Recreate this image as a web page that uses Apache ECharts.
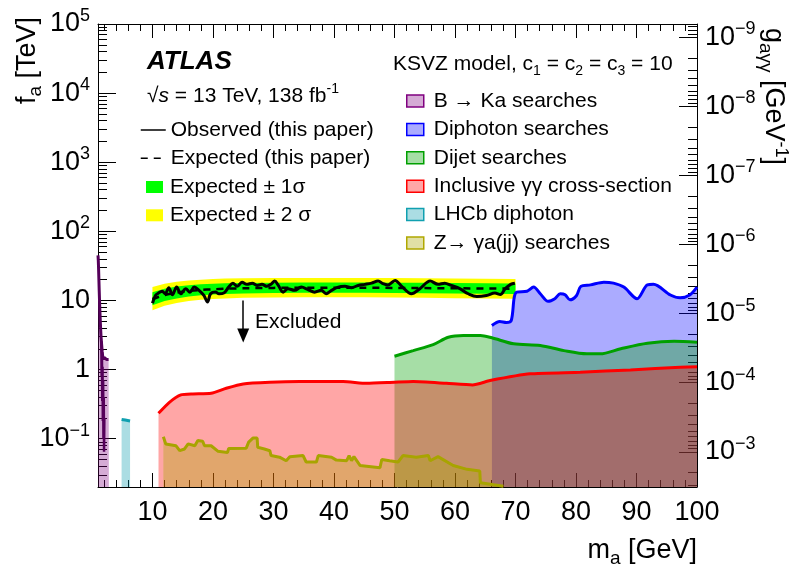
<!DOCTYPE html>
<html>
<head>
<meta charset="utf-8">
<script src="https://cdn.jsdelivr.net/npm/echarts@6/dist/echarts.min.js"></script>
<style>html,body{margin:0;padding:0;background:#fff}#c{width:800px;height:567px}</style>
</head>
<body>
<div id="c"></div>
<script>
// ---------------- data ----------------
const fMin = 0.02, fMax = 1e5;          // f_a axis range [TeV]
const gK = Math.pow(10, -4.19);         // g_aγγ = gK / f_a
const xMin = 1, xMax = 100;

const bkaX = [1.0, 1.05, 1.1, 1.2, 1.3, 1.4, 1.5, 1.6, 1.7, 1.8, 1.9, 2.0, 2.1, 2.2, 2.4, 2.6, 2.75, 2.8];
const bkaF = [45, 38, 28, 14, 7.5, 4.5, 3.0, 2.3, 1.8, 1.5, 1.4, 1.5, 1.6, 1.45, 1.4, 1.35, 1.4, 1.4];
const bkaSpX = [1.55, 1.6, 1.65, 1.7, 1.75, 1.8, 1.85, 1.9, 1.95, 2.0, 2.05];
const bkaSpF = [2.6, 0.8, 1.8, 0.35, 1.1, 0.18, 0.7, 0.1, 0.4, 0.065, 0.2];

const lhX = [4.9, 5.5, 6.3];
const lhF = [0.19, 0.186, 0.18];

const dpX = [66.1, 67.4, 68.5, 69.3, 69.8, 70.2, 71.9, 73.0, 74.1, 75.4, 76.5, 77.4, 78.2, 79.0, 80.1, 80.8, 82.4, 84.6, 86.2, 87.9, 90.1, 91.8, 92.8, 95.6, 97.2, 98.8, 100];
const dpF = [4.34, 4.97, 4.8, 5.13, 11.2, 13.2, 13.6, 15.6, 12.5, 9.7, 10.6, 12.5, 12.1, 10.2, 11.8, 16.0, 16.8, 18.4, 17.8, 15.6, 10.6, 16.8, 17.1, 12.0, 10.9, 12.0, 15.6];

const djX = [50.0, 53.1, 56.4, 58.9, 61.4, 64.2, 66.1, 69.7, 74.1, 78.0, 81.8, 84.0, 87.4, 91.8, 96.2, 100];
const djF = [1.56, 1.88, 2.30, 2.94, 3.11, 3.11, 2.88, 2.36, 2.23, 1.88, 1.69, 1.69, 2.0, 2.40, 2.57, 2.49];

const incX = [11.0, 12.8, 14.7, 16.7, 19.7, 22.2, 25.0, 29.4, 34.3, 41.5, 45.4, 50, 53.1, 58.6, 62.9, 65.8, 72.4, 80.7, 89.0, 97.2, 100];
const incF = [0.233, 0.336, 0.43, 0.445, 0.454, 0.536, 0.62, 0.655, 0.67, 0.67, 0.632, 0.655, 0.67, 0.632, 0.60, 0.693, 0.867, 0.915, 0.99, 1.08, 1.10];

const zX = [11.8, 12.2, 13.9, 14.5, 15.3, 15.9, 17.0, 17.5, 18.3, 18.6, 19.7, 20.8, 22.4, 22.6, 25.5, 25.9, 26.6, 27.3, 27.4, 28.5, 29.4, 29.6, 31.0, 32.1, 32.7, 34.9, 35.4, 37.1, 37.4, 39.6, 40.4, 42.1, 42.5, 42.9, 43.3, 44.3, 47.6, 47.9, 49.2, 50.6, 51.4, 53.6, 55.6, 55.9, 57.2, 59.7, 62.0, 64.1, 64.2, 66.4, 68.0];
const zF = [0.107, 0.084, 0.079, 0.067, 0.071, 0.084, 0.079, 0.094, 0.092, 0.079, 0.079, 0.066, 0.063, 0.072, 0.073, 0.089, 0.102, 0.102, 0.075, 0.071, 0.067, 0.057, 0.054, 0.048, 0.055, 0.057, 0.046, 0.046, 0.057, 0.054, 0.049, 0.048, 0.057, 0.048, 0.055, 0.041, 0.038, 0.050, 0.048, 0.046, 0.057, 0.054, 0.057, 0.048, 0.055, 0.041, 0.036, 0.034, 0.023, 0.0215, 0.0205];

const expX  = [10, 12, 14, 16, 18, 20, 22, 25, 30, 35, 40, 45, 50, 55, 60, 65, 70];
const expF  = [10.5, 12.0, 13.0, 13.7, 14.2, 14.5, 14.8, 15.0, 15.2, 15.3, 15.3, 15.3, 15.2, 15.1, 15.0, 14.9, 14.8];
const s1Lo  = [8.5, 9.8, 10.7, 11.4, 11.9, 12.2, 12.4, 12.6, 12.8, 12.9, 12.9, 12.9, 12.8, 12.7, 12.6, 12.5, 12.4];
const s1Hi  = [13.2, 14.8, 15.9, 16.6, 17.1, 17.4, 17.7, 17.9, 18.1, 18.2, 18.2, 18.2, 18.1, 18.0, 17.9, 17.8, 17.6];
const s2Lo  = [7.2, 8.4, 9.2, 9.8, 10.2, 10.5, 10.7, 10.9, 11.0, 11.1, 11.1, 11.1, 11.0, 10.9, 10.8, 10.7, 10.6];
const s2Hi  = [15.6, 17.5, 18.7, 19.5, 20.0, 20.4, 20.7, 20.9, 21.1, 21.2, 21.2, 21.2, 21.1, 21.0, 20.8, 20.6, 20.4];

const obsX = [10.0, 10.5, 11.0, 11.6, 12.1, 12.7, 13.3, 14.0, 14.7, 15.5, 16.2, 16.9, 17.7, 18.5, 19.1, 19.6, 20.4, 21.0, 21.8, 22.6, 23.3, 24.0, 24.8, 25.6, 26.5, 27.3, 28.1, 28.9, 29.7, 30.2, 30.8, 31.6, 32.4, 33.5, 34.6, 35.7, 36.8, 37.9, 38.7, 39.6, 40.7, 41.8, 42.9, 44.0, 45.1, 46.2, 47.3, 48.1, 48.9, 50.1, 51.2, 52.8, 54.2, 55.9, 57.2, 58.3, 59.4, 60.8, 62.2, 63.6, 65.2, 66.6, 67.5, 68.3, 69.2, 69.9];
const obsF = [9.1, 11.8, 12.8, 13.6, 12.5, 15.3, 12.1, 15.6, 12.5, 14.8, 13.2, 15.6, 14.0, 11.8, 9.5, 12.5, 13.3, 12.5, 12.8, 15.6, 17.8, 16.0, 18.4, 17.1, 17.8, 16.5, 17.1, 16.0, 17.5, 19.1, 16.5, 13.2, 14.8, 14.0, 15.6, 14.4, 13.2, 14.0, 12.5, 14.0, 15.6, 16.0, 15.3, 16.5, 17.1, 17.8, 19.1, 17.5, 16.8, 19.5, 16.0, 12.5, 14.8, 19.1, 17.1, 17.8, 16.5, 14.8, 12.5, 11.4, 11.8, 12.8, 12.2, 14.8, 17.1, 17.8];

const arrowX = 25, arrowTop = 10, arrowBottom = 3.1;

// ---------------- chart ----------------
const FONT = '"Liberation Sans", Arial, Helvetica, sans-serif';
const pts = (xs, ys) => xs.map((x, i) => [x, ys[i]]);

function powLabel(v) {
  const e = Math.log10(v), r = Math.round(e);
  if (Math.abs(e - r) > 1e-6) return '';
  if (r === 0) return '{b|1}';
  if (r === 1) return '{b|10}';
  return '{b|10}{s|' + (r < 0 ? '\u2212' + (-r) : r) + '}';
}
const labRich = {
  b: { fontSize: 27, fontFamily: FONT, color: '#000', lineHeight: 34 },
  s: { fontSize: 18, fontFamily: FONT, color: '#000', lineHeight: 16, verticalAlign: 'top' }
};
const axisCommon = {
  axisLine: { show: true, onZero: false, lineStyle: { color: '#000', width: 1 } },
  splitLine: { show: false }
};

function area(name, xs, ys, line, fill, extra) {
  return Object.assign({
    name, type: 'line', data: pts(xs, ys), symbol: 'none', silent: true,
    lineStyle: { color: line, width: 3 }, itemStyle: { color: line },
    areaStyle: { color: fill, opacity: 1, origin: 'start' }
  }, extra || {});
}

// band between lo and hi, drawn through the axes' own scales
function band(name, xs, lo, hi, color) {
  return {
    name, type: 'custom', silent: true, clip: true,
    data: xs.map((x, i) => [x, lo[i], hi[i]]),
    encode: { x: 0, y: [1, 2] },
    itemStyle: { color },
    renderItem: function (params, api) {
      if (params.dataIndex !== 0) return null;
      const top = xs.map((x, i) => api.coord([x, hi[i]]));
      const bot = xs.map((x, i) => api.coord([x, lo[i]])).reverse();
      return { type: 'polygon', shape: { points: top.concat(bot) }, style: { fill: color, stroke: null } };
    }
  };
}

const gMin = gK / fMax, gMax = gK / fMin;

const option = {
  animation: false,
  textStyle: { fontFamily: FONT },
  grid: { left: 98, right: 103, top: 24, bottom: 80 },
  xAxis: [
    Object.assign({}, axisCommon, {
      type: 'value', min: xMin, max: xMax, splitNumber: 10, position: 'bottom',
      axisTick: { inside: true, length: 14, lineStyle: { color: '#000' } },
      minorTick: { show: true, splitNumber: 5, length: 7, lineStyle: { color: '#000' } },
      axisLabel: { fontSize: 27, fontFamily: FONT, color: '#000', margin: 12,
        formatter: v => (v > 0 && Math.abs(v % 10) < 1e-9) ? String(v) : '' }
    }),
    Object.assign({}, axisCommon, {
      type: 'value', min: xMin, max: xMax, splitNumber: 10, position: 'top',
      axisTick: { inside: true, length: 14, lineStyle: { color: '#000' } },
      minorTick: { show: true, splitNumber: 5, length: 7, lineStyle: { color: '#000' } },
      axisLabel: { show: false }
    })
  ],
  yAxis: [
    Object.assign({}, axisCommon, {
      type: 'log', logBase: 10, min: fMin, max: fMax, position: 'left',
      axisTick: { inside: true, length: 18, lineStyle: { color: '#000' } },
      minorTick: { show: true, splitNumber: 9, length: 9, lineStyle: { color: '#000' } },
      axisLabel: { formatter: powLabel, rich: labRich, margin: 8 }
    }),
    Object.assign({}, axisCommon, {
      type: 'log', logBase: 10, min: gMin, max: gMax, inverse: true, position: 'right',
      axisTick: { inside: true, length: 18, lineStyle: { color: '#000' } },
      minorTick: { show: true, splitNumber: 9, length: 9, lineStyle: { color: '#000' } },
      axisLabel: { formatter: powLabel, rich: labRich, margin: 8 }
    })
  ],
  legend: [
    { orient: 'vertical', left: 140, top: 119, itemWidth: 25, itemHeight: 12, itemGap: 6.3, padding: 0,
      selectedMode: false, textStyle: { fontSize: 21, lineHeight: 22, color: '#000', fontFamily: FONT },
      data: [{ name: 'Observed (this paper)', lineStyle: { width: 1.5 }, itemStyle: { opacity: 0 } },
             { name: 'Expected (this paper)', lineStyle: { width: 1.5 }, itemStyle: { opacity: 0 } }] },
    { orient: 'vertical', left: 146, top: 176, itemWidth: 17, itemHeight: 12, itemGap: 6.3, padding: 0,
      selectedMode: false, textStyle: { fontSize: 21, lineHeight: 22, color: '#000', fontFamily: FONT, padding: [0, 0, 0, 2] },
      data: [{ name: 'Expected ± 1σ', icon: 'rect', itemStyle: { color: '#00ff00', borderWidth: 0 } },
             { name: 'Expected ± 2 σ', icon: 'rect', itemStyle: { color: '#ffff00', borderWidth: 0 } }] },
    { orient: 'vertical', left: 406, top: 90, itemWidth: 17, itemHeight: 12, itemGap: 6.4, padding: 0,
      selectedMode: false, textStyle: { fontSize: 21, lineHeight: 22, color: '#000', fontFamily: FONT, padding: [0, 0, 0, 5] },
      data: [
        { name: 'B → Ka searches', icon: 'rect', itemStyle: { color: 'rgba(128,0,128,0.33)', borderColor: '#800080', borderWidth: 1.5 } },
        { name: 'Diphoton searches', icon: 'rect', itemStyle: { color: 'rgba(0,0,255,0.33)', borderColor: '#0000ff', borderWidth: 1.5 } },
        { name: 'Dijet searches', icon: 'rect', itemStyle: { color: 'rgba(0,160,0,0.35)', borderColor: '#00a000', borderWidth: 1.5 } },
        { name: 'Inclusive γγ cross-section', icon: 'rect', itemStyle: { color: 'rgba(255,0,0,0.35)', borderColor: '#ff0000', borderWidth: 1.5 } },
        { name: 'LHCb diphoton', icon: 'rect', itemStyle: { color: 'rgba(0,153,170,0.33)', borderColor: '#10a0b0', borderWidth: 1.5 } },
        { name: 'Z→ γa(jj) searches', icon: 'rect', itemStyle: { color: 'rgba(170,165,0,0.35)', borderColor: '#b0a800', borderWidth: 1.5 } }
      ] }
  ],
  series: [
    area('B → Ka searches', bkaX, bkaF, '#55005a', 'rgba(128,0,128,0.33)'),
    { name: 'bkaSpikes', type: 'line', data: pts(bkaSpX, bkaSpF), symbol: 'none', silent: true,
      lineStyle: { color: '#55005a', width: 2.5 } },
    area('LHCb diphoton', lhX, lhF, '#10a0b0', 'rgba(0,153,170,0.33)'),
    area('Diphoton searches', dpX, dpF, '#0000ff', 'rgba(0,0,255,0.33)', { smooth: 0.3 }),
    area('Dijet searches', djX, djF, '#00a000', 'rgba(0,160,0,0.35)', { smooth: 0.3 }),
    area('Inclusive γγ cross-section', incX, incF, '#ff0000', 'rgba(255,0,0,0.35)', { smooth: 0.2 }),
    area('Z→ γa(jj) searches', zX, zF, '#a8a400', 'rgba(170,165,0,0.35)'),
    band('Expected ± 2 σ', expX, s2Lo, s2Hi, '#ffff00'),
    band('Expected ± 1σ', expX, s1Lo, s1Hi, '#00ff00'),
    { name: 'Expected (this paper)', type: 'line', data: pts(expX, expF), symbol: 'none', silent: true,
      smooth: 0.3, lineStyle: { color: '#000', width: 2.5, type: [7, 6] }, itemStyle: { color: '#000' } },
    { name: 'Observed (this paper)', type: 'line', data: pts(obsX, obsF), symbol: 'none', silent: true,
      smooth: 0.35, lineStyle: { color: '#000', width: 3 }, itemStyle: { color: '#000' },
      markLine: { silent: true, symbol: ['none', 'triangle'], symbolSize: [12, 14], animation: false,
        label: { show: false }, lineStyle: { color: '#000', width: 1.5, type: 'solid' },
        data: [[{ coord: [arrowX, arrowTop] }, { coord: [arrowX, arrowBottom] }]] } }
  ],
  graphic: [
    { type: 'text', x: 147, y: 62, style: { text: 'ATLAS', font: 'italic bold 26px ' + FONT, fill: '#000', verticalAlign: 'middle' } },
    { type: 'text', x: 147, y: 96, style: {
      text: '{n|\u221A}{i|s}{n| = 13 TeV, 138 fb}{p|-1}', verticalAlign: 'middle',
      rich: { n: { fontSize: 21, fontFamily: FONT, fill: '#000', lineHeight: 28 },
              i: { fontSize: 21, fontFamily: FONT, fontStyle: 'italic', fill: '#000', lineHeight: 28 },
              p: { fontSize: 14, fontFamily: FONT, fill: '#000', lineHeight: 12, verticalAlign: 'top' } } } },
    { type: 'text', x: 393, y: 64, style: {
      text: '{n|KSVZ model, c}{d|1}{n| = c}{d|2}{n| = c}{d|3}{n| = 10}', verticalAlign: 'middle',
      rich: { n: { fontSize: 21, fontFamily: FONT, fill: '#000', lineHeight: 28 },
              d: { fontSize: 14, fontFamily: FONT, fill: '#000', lineHeight: 12, verticalAlign: 'bottom' } } } },
    { type: 'text', x: 255, y: 322, style: { text: 'Excluded', font: '21px ' + FONT, fill: '#000', verticalAlign: 'middle' } },
    { type: 'text', x: 28, y: 17, rotation: Math.PI / 2, style: {
      text: '{t|f}{d|a}{t| [TeV]}', align: 'right', verticalAlign: 'middle',
      rich: { t: { fontSize: 27, fontFamily: FONT, fill: '#000', lineHeight: 34 },
              d: { fontSize: 19, fontFamily: FONT, fill: '#000', lineHeight: 14, verticalAlign: 'bottom' } } } },
    { type: 'text', x: 773, y: 28, rotation: -Math.PI / 2, style: {
      text: '{t|g}{d|aγγ}{t| [GeV}{p|-1}{t|]}', align: 'left', verticalAlign: 'middle',
      rich: { t: { fontSize: 27, fontFamily: FONT, fill: '#000', lineHeight: 34 },
              d: { fontSize: 19, fontFamily: FONT, fill: '#000', lineHeight: 14, verticalAlign: 'bottom' },
              p: { fontSize: 18, fontFamily: FONT, fill: '#000', lineHeight: 14, verticalAlign: 'top' } } } },
    { type: 'text', x: 697, y: 551, style: {
      text: '{t|m}{d|a}{t| [GeV]}', align: 'right', verticalAlign: 'middle',
      rich: { t: { fontSize: 27, fontFamily: FONT, fill: '#000', lineHeight: 34 },
              d: { fontSize: 19, fontFamily: FONT, fill: '#000', lineHeight: 14, verticalAlign: 'bottom' } } } }
  ]
};

const chart = echarts.init(document.getElementById('c'), null, { renderer: 'canvas' });
chart.setOption(option);
</script>
</body>
</html>
